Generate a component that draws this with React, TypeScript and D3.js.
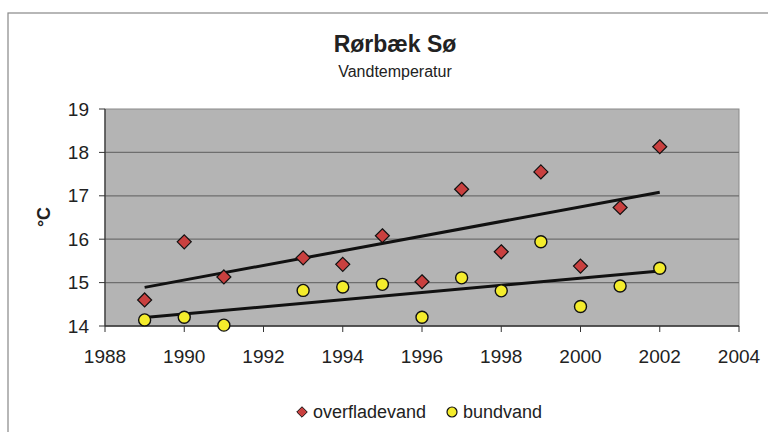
import React from "react"
import * as d3 from "d3"

// yearly mean water temperature, Rørbæk Sø
const years = [1989, 1990, 1991, 1993, 1994, 1995, 1996, 1997, 1998, 1999, 2000, 2001, 2002]
const overfladevand = [14.6, 15.94, 15.13, 15.57, 15.42, 16.08, 15.02, 17.15, 15.71, 17.55, 15.38, 16.73, 18.13]
const bundvand = [14.14, 14.2, 14.02, 14.82, 14.9, 14.96, 14.2, 15.11, 14.81, 15.94, 14.45, 14.92, 15.33]
const xTicks = [1988, 1990, 1992, 1994, 1996, 1998, 2000, 2002, 2004]
const yTicks = [14, 15, 16, 17, 18, 19]

const W = 768
const H = 432
const margin = { top: 109, right: 29, bottom: 106, left: 105 }
const font = "'Liberation Sans', Arial, sans-serif"

// least squares line, like the spreadsheet trendline
function fit(xs: number[], ys: number[]) {
  const mx = d3.mean(xs)!
  const my = d3.mean(ys)!
  let num = 0
  let den = 0
  xs.forEach((x, i) => {
    num += (x - mx) * (ys[i] - my)
    den += (x - mx) * (x - mx)
  })
  const b = num / den
  return (x: number) => my + b * (x - mx)
}

export default function App() {
  const innerW = W - margin.left - margin.right
  const innerH = H - margin.top - margin.bottom

  const x = d3.scaleLinear().domain([1988, 2004]).range([0, innerW])
  const y = d3.scaleLinear().domain([14, 19]).range([innerH, 0])

  const x0 = d3.min(years)!
  const x1 = d3.max(years)!
  const fTop = fit(years, overfladevand)
  const fBot = fit(years, bundvand)

  const diamond = d3.symbol().type(d3.symbolDiamond2).size(125)()!

  return (
    <svg width={W} height={H} style={{ position: "absolute", left: 0, top: 0, background: "#fff" }} fontFamily={font}>
      <rect x={8} y={13} width={W} height={H} fill="#fff" stroke="#888" strokeWidth={1.2} />

      <text x={395} y={52} textAnchor="middle" fontSize={23} fontWeight="bold" fill="#222">Rørbæk Sø</text>
      <text x={395} y={77} textAnchor="middle" fontSize={16} fill="#222">Vandtemperatur</text>

      <text transform="translate(50,217) rotate(-90)" textAnchor="middle" fontSize={18} fontWeight="bold" fill="#222">°C</text>

      <g transform={`translate(${margin.left},${margin.top})`}>
        <rect width={innerW} height={innerH} fill="#b4b4b4" stroke="#8a8a8a" />
        {yTicks.slice(1, -1).map(t => (
          <line key={t} x1={0} x2={innerW} y1={y(t)} y2={y(t)} stroke="#6e6e6e" strokeWidth={1.2} />
        ))}
        <line x1={0} x2={0} y1={0} y2={innerH} stroke="#333" strokeWidth={1.2} />
        <line x1={0} x2={innerW} y1={innerH} y2={innerH} stroke="#333" strokeWidth={1.5} />
        {yTicks.map(t => (
          <g key={t}>
            <line x1={-6} x2={0} y1={y(t)} y2={y(t)} stroke="#333" />
            <text x={-16} y={y(t)} dy="0.35em" textAnchor="end" fontSize={19} fill="#222">{t}</text>
          </g>
        ))}
        {xTicks.map(t => (
          <g key={t}>
            <line x1={x(t)} x2={x(t)} y1={innerH} y2={innerH + 6} stroke="#333" />
            <text x={x(t)} y={innerH + 37} textAnchor="middle" fontSize={19} fill="#222">{t}</text>
          </g>
        ))}

        <line x1={x(x0)} x2={x(x1)} y1={y(fTop(x0))} y2={y(fTop(x1))} stroke="#111" strokeWidth={3} />
        <line x1={x(x0)} x2={x(x1)} y1={y(fBot(x0))} y2={y(fBot(x1))} stroke="#111" strokeWidth={3} />

        {years.map((yr, i) => (
          <circle key={"b" + yr} cx={x(yr)} cy={y(bundvand[i])} r={6} fill="#f4ec2c" stroke="#111" strokeWidth={1.4} />
        ))}
        {years.map((yr, i) => (
          <path key={"o" + yr} d={diamond} transform={`translate(${x(yr)},${y(overfladevand[i])})`} fill="#c9403f" stroke="#111" strokeWidth={1.2} />
        ))}
      </g>

      <g transform="translate(302,412)">
        <path d={d3.symbol().type(d3.symbolDiamond2).size(70)()!} fill="#c9403f" stroke="#111" strokeWidth={1} />
        <text x={11} y={0} dy="0.35em" fontSize={18} fill="#222">overfladevand</text>
        <circle cx={150} cy={0} r={5} fill="#f4ec2c" stroke="#111" strokeWidth={1.2} />
        <text x={161} y={0} dy="0.35em" fontSize={18} fill="#222">bundvand</text>
      </g>
    </svg>
  )
}
